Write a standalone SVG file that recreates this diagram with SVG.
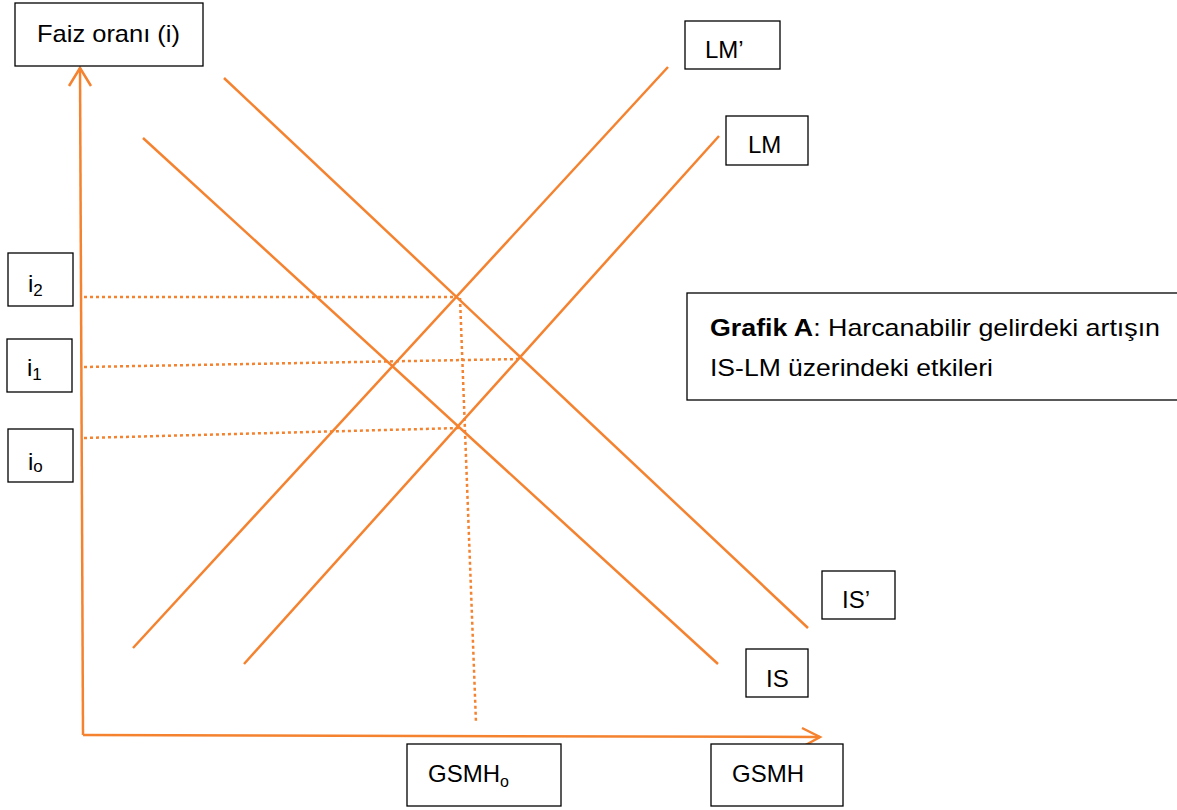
<svg xmlns="http://www.w3.org/2000/svg" width="1177" height="810" viewBox="0 0 1177 810">
<style>
.box{fill:#fff;stroke:#000;stroke-width:1.3}
.t{font-family:"Liberation Sans",Arial,sans-serif;font-size:24px;fill:#000}
.ln{stroke:#F4822F;stroke-width:2.5;fill:none;stroke-linecap:butt}
.dot{stroke:#F4822F;stroke-width:2.5;fill:none;stroke-dasharray:3 3}
</style>
<rect width="1177" height="810" fill="#fff"/>
<g id="connectors">
<polyline class="ln" points="69,86 80,68 91,86"/>
<line class="ln" x1="80" y1="68" x2="83" y2="735"/>
<line class="ln" x1="83" y1="735" x2="820" y2="737"/>
<polyline class="ln" points="802,728 820,737 802,747"/>
<line class="ln" x1="143" y1="138" x2="718" y2="664"/>
<line class="ln" x1="224" y1="78" x2="808" y2="628"/>
<line class="ln" x1="244" y1="664" x2="719" y2="136"/>
<line class="ln" x1="133" y1="648" x2="668" y2="67"/>
<line class="dot" x1="84" y1="297" x2="457" y2="297"/>
<line class="dot" x1="84" y1="367" x2="520" y2="359"/>
<line class="dot" x1="84" y1="438" x2="460" y2="428"/>
<line class="dot" x1="460" y1="298" x2="476" y2="723"/>
</g>
<g id="faiz"><rect class="box" x="15" y="3" width="188" height="63"/><text class="t" x="37" y="42" font-size="25" textLength="143" lengthAdjust="spacingAndGlyphs">Faiz oranı (i)</text></g>
<g id="i2"><rect class="box" x="8" y="253" width="65" height="53"/><text class="t" x="28" y="292" font-size="28">i<tspan font-size="17" dy="4">2</tspan></text></g>
<g id="i1"><rect class="box" x="7" y="339" width="65" height="53"/><text class="t" x="27" y="376" font-size="28">i<tspan font-size="17" dy="4">1</tspan></text></g>
<g id="io"><rect class="box" x="8" y="429" width="65" height="53"/><text class="t" x="28" y="470" font-size="28">i<tspan font-size="17" dy="2">o</tspan></text></g>
<g id="lmp"><rect class="box" x="685" y="21" width="95" height="48"/><text class="t" x="705" y="58">LM’</text></g>
<g id="lm"><rect class="box" x="726" y="116" width="82" height="49"/><text class="t" x="748" y="153">LM</text></g>
<g id="isp"><rect class="box" x="822" y="571" width="73" height="48"/><text class="t" x="842" y="608">IS’</text></g>
<g id="is"><rect class="box" x="746" y="649" width="62" height="48"/><text class="t" x="766" y="687">IS</text></g>
<g id="gsmho"><rect class="box" x="407" y="744" width="154" height="62"/><text class="t" x="428" y="782">GSMH<tspan font-size="16" dy="5">o</tspan></text></g>
<g id="gsmh"><rect class="box" x="711" y="744" width="132" height="62"/><text class="t" x="732" y="782">GSMH</text></g>
<g id="grafik"><rect class="box" x="687" y="293" width="495" height="107"/><text class="t" x="710" y="336" textLength="450" lengthAdjust="spacingAndGlyphs"><tspan font-weight="bold">Grafik A</tspan>: Harcanabilir gelirdeki artışın</text><text class="t" x="710" y="376" textLength="283" lengthAdjust="spacingAndGlyphs">IS-LM üzerindeki etkileri</text></g>
</svg>
